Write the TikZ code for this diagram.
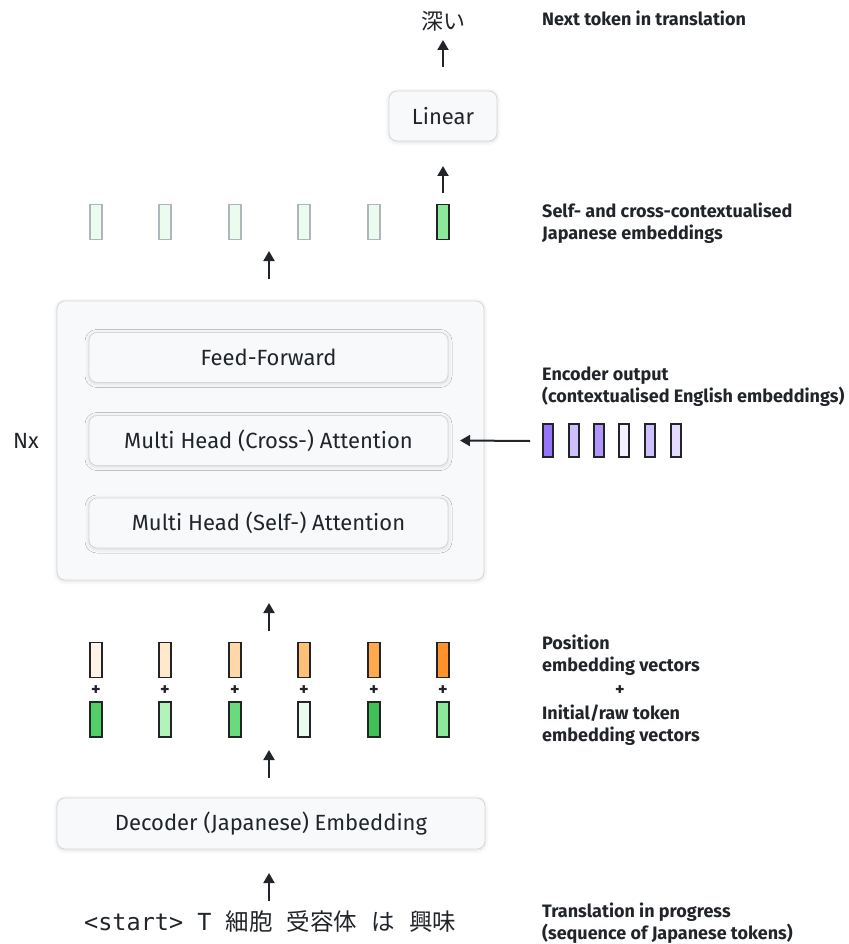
\documentclass[tikz,border=0pt]{standalone}
\usepackage{fontspec}
\setmainfont{Fira Sans}
\newfontfamily\cjk{Noto Sans CJK JP}
\newfontfamily\monofont{DejaVu Sans Mono}
\usetikzlibrary{arrows.meta,shadows.blur}

% open-color palette
\definecolor{ink}{HTML}{212529}
\definecolor{boxfill}{HTML}{F8F9FA}
\definecolor{boxline}{HTML}{D5D9DD}
\definecolor{fadeline}{HTML}{ADB5BD}
\definecolor{gr0}{HTML}{EBFBEE}
\definecolor{gr2}{HTML}{B2F2BB}
\definecolor{gr3}{HTML}{8CE99A}
\definecolor{gr4}{HTML}{69DB7C}
\definecolor{gr5}{HTML}{51CF66}
\definecolor{gr6}{HTML}{40C057}
\definecolor{or0}{HTML}{FFF4E6}
\definecolor{or1}{HTML}{FFE8CC}
\definecolor{or2}{HTML}{FFD8A8}
\definecolor{or3}{HTML}{FFC078}
\definecolor{or4}{HTML}{FFA94D}
\definecolor{or5}{HTML}{FF922B}
\definecolor{vi0}{HTML}{F3F0FF}
\definecolor{vi1}{HTML}{E5DBFF}
\definecolor{vi2}{HTML}{D0BFFF}
\definecolor{vi3}{HTML}{B197FC}
\definecolor{vi4}{HTML}{9775FA}

\begin{document}
\begin{tikzpicture}[x=1pt,y=-1pt,
  box/.style={draw=boxline, fill=boxfill, rounded corners=8pt, line width=0.9pt,
    inner sep=0pt, text=ink, font=\fontsize{22}{26}\selectfont,
    blur shadow={shadow xshift=0pt, shadow yshift=-1pt, shadow blur radius=4pt, shadow opacity=14}},
  vec/.style={draw=ink, line width=1.6pt, minimum width=12pt, minimum height=35pt, inner sep=0pt},
  fadevec/.style={vec, draw=fadeline},
  encvec/.style={vec, minimum width=10.5pt, minimum height=33.5pt},
  uparrow/.style={draw=ink, line width=2pt, -{Triangle[length=10pt,width=11pt]}},
  tag/.style={font=\bfseries\fontsize{18}{22}\selectfont, text=ink, anchor=base west, inner sep=0pt},
  plain/.style={text=ink, font=\fontsize{22}{26}\selectfont, inner sep=0pt}]

\useasboundingbox (0,0) rectangle (848,944);

% output token and projection
\node[plain, font=\cjk\fontsize{22}{26}\selectfont] (next) at (443,21) {深い};
\node[box, minimum width=108pt, minimum height=50pt] (linear) at (443,116) {Linear};
\coordinate (linIn0) at (443,193);
\coordinate (linIn1) at (443,166);
\coordinate (nextIn0) at (443,67);
\coordinate (nextIn1) at (443,40);
\draw[uparrow] (nextIn0) -- (nextIn1);
\draw[uparrow] (linIn0) -- (linIn1);

% contextualised decoder outputs
\foreach \i/\x in {1/96,2/165,3/235,4/304,5/374}
  \node[fadevec, fill=gr0] (out\i) at (\x,222) {};
\node[vec, fill=gr3] (out6) at (443,222) {};

\coordinate (blkOut0) at (269,279);
\coordinate (blkOut1) at (269,251);
\draw[uparrow] (blkOut0) -- (blkOut1);

% decoder block
\node[box, minimum width=427pt, minimum height=279pt] (block) at (270.5,440.5) {};
\node[box, minimum width=359pt, minimum height=50pt] (ff) at (268.5,357.5) {Feed-Forward};
\node[box, minimum width=359pt, minimum height=50pt] (cross) at (268.5,440.5) {Multi Head (Cross-) Attention};
\node[box, minimum width=359pt, minimum height=50pt] (self) at (268.5,523) {Multi Head (Self-) Attention};
\node[plain, anchor=west] (nx) at (13,441) {Nx};

% encoder output feeding the cross attention
\foreach \i/\x/\c in {1/548/vi4,2/574/vi2,3/599/vi3,4/624/vi0,5/650/vi2,6/676/vi1}
  \node[encvec, fill=\c] (enc\i) at (\x,440.5) {};
\coordinate (encSrc) at (530,441);
\draw[uparrow] (encSrc) -- (cross.east -| 460,0);

\coordinate (blkIn0) at (269,631);
\coordinate (blkIn1) at (269,603);
\draw[uparrow] (blkIn0) -- (blkIn1);

% position + token embeddings
\foreach \i/\x/\c in {1/96/or0,2/165/or1,3/235/or2,4/304/or3,5/374/or4,6/443/or5}
  \node[vec, fill=\c] (pos\i) at (\x,660) {};
\foreach \i/\x in {1/96,2/165,3/235,4/304,5/374,6/443}
  \node[text=ink, font=\bfseries\fontsize{18}{18}\selectfont, inner sep=0pt] (plus\i) at (\x,690.5) {+};
\foreach \i/\x/\c in {1/96/gr5,2/165/gr2,3/235/gr4,4/304/gr0,5/374/gr6,6/443/gr3}
  \node[vec, fill=\c] (tok\i) at (\x,719.5) {};

\coordinate (embOut0) at (269,778);
\coordinate (embOut1) at (269,750);
\draw[uparrow] (embOut0) -- (embOut1);

\node[box, minimum width=428pt, minimum height=51pt] (embed) at (271,823.5) {Decoder (Japanese) Embedding};

\coordinate (seqOut0) at (269,901);
\coordinate (seqOut1) at (269,873);
\draw[uparrow] (seqOut0) -- (seqOut1);

% input token sequence
\node[text=ink, anchor=base west, inner sep=0pt, font=\monofont\fontsize{23.5}{28}\selectfont] (seq) at (84,930)
  {<start> T {\cjk 細胞} {\cjk 受容体} {\cjk は} {\cjk 興味}};

% annotations
\node[tag] (t1) at (542,26) {Next token in translation};
\node[tag] (t2a) at (542,217) {Self- and cross-contextualised};
\node[tag] (t2b) at (542,239) {Japanese embeddings};
\node[tag] (t3a) at (542,380) {Encoder output};
\node[tag] (t3b) at (542,402) {(contextualised English embeddings)};
\node[tag] (t4a) at (542,649) {Position};
\node[tag] (t4b) at (542,671) {embedding vectors};
\node[tag, anchor=base] (t4c) at (620,695) {+};
\node[tag] (t4d) at (542,719) {Initial/raw token};
\node[tag] (t4e) at (542,741) {embedding vectors};
\node[tag] (t5a) at (542,917) {Translation in progress};
\node[tag] (t5b) at (542,939) {(sequence of Japanese tokens)};
\end{tikzpicture}
\end{document}
